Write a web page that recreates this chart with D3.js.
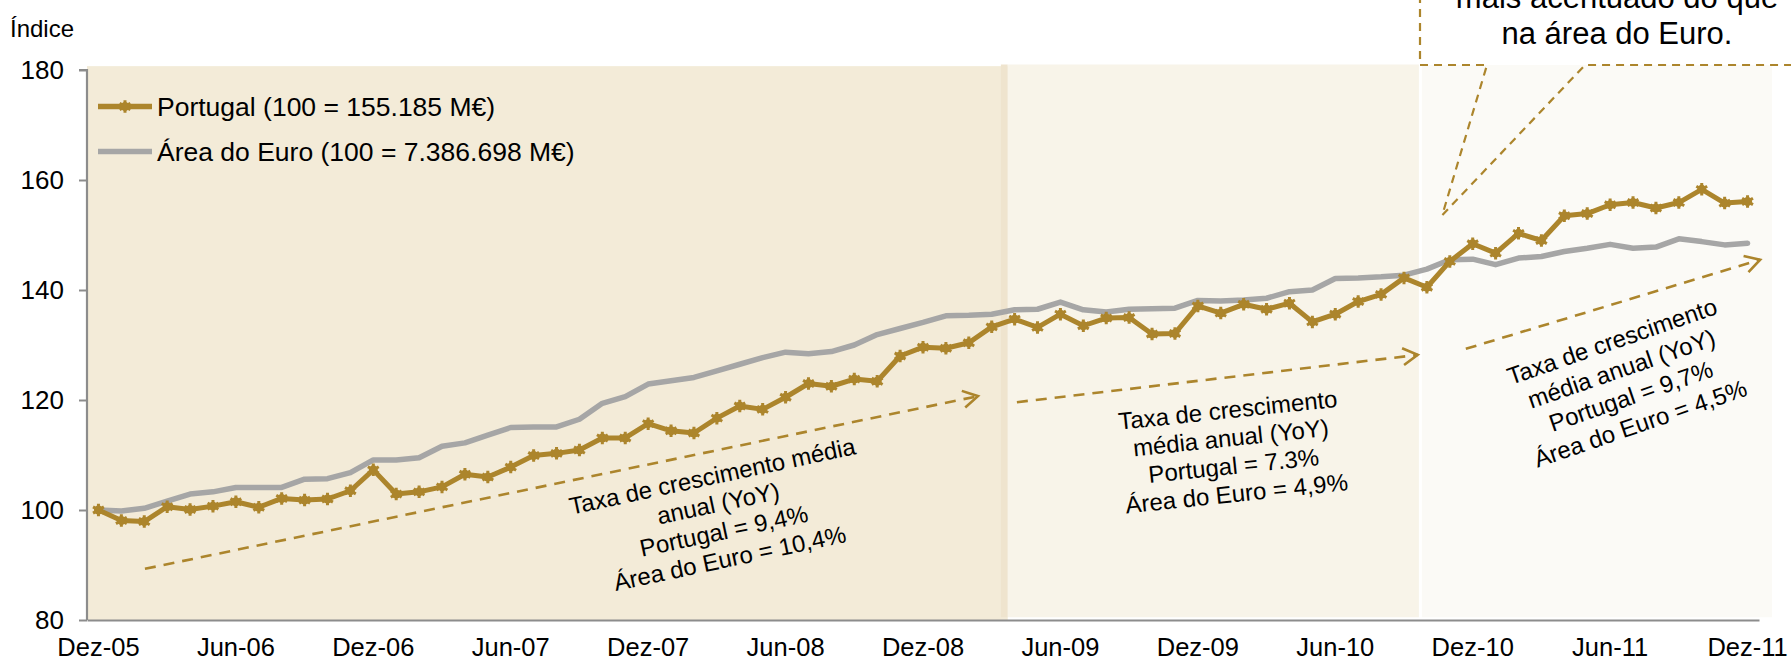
<!DOCTYPE html>
<html><head><meta charset="utf-8">
<script src="https://cdn.jsdelivr.net/npm/d3@7"></script>
<style>
body{margin:0;background:#fff;}
svg{display:block;font-family:"Liberation Sans",Arial,sans-serif;}
</style>
</head><body>
<svg id="c" width="1791" height="664"></svg>
<script>
// ---------- DATA ----------
const categories = [
"Dez-05","Jan-06","Fev-06","Mar-06","Abr-06","Mai-06","Jun-06","Jul-06","Ago-06","Set-06","Out-06","Nov-06",
"Dez-06","Jan-07","Fev-07","Mar-07","Abr-07","Mai-07","Jun-07","Jul-07","Ago-07","Set-07","Out-07","Nov-07",
"Dez-07","Jan-08","Fev-08","Mar-08","Abr-08","Mai-08","Jun-08","Jul-08","Ago-08","Set-08","Out-08","Nov-08",
"Dez-08","Jan-09","Fev-09","Mar-09","Abr-09","Mai-09","Jun-09","Jul-09","Ago-09","Set-09","Out-09","Nov-09",
"Dez-09","Jan-10","Fev-10","Mar-10","Abr-10","Mai-10","Jun-10","Jul-10","Ago-10","Set-10","Out-10","Nov-10",
"Dez-10","Jan-11","Fev-11","Mar-11","Abr-11","Mai-11","Jun-11","Jul-11","Ago-11","Set-11","Out-11","Nov-11",
"Dez-11"];

const portugal = [
100.0,98.1,97.9,100.6,100.1,100.7,101.5,100.5,102.1,101.8,102.0,103.5,
107.3,102.9,103.3,104.2,106.5,106.0,107.8,109.9,110.3,110.9,113.1,113.1,
115.7,114.4,114.0,116.7,118.9,118.3,120.5,123.0,122.5,123.8,123.4,128.0,
129.6,129.4,130.4,133.3,134.7,133.2,135.6,133.5,134.9,135.0,132.0,132.1,
137.1,135.8,137.4,136.5,137.6,134.2,135.6,137.9,139.2,142.2,140.5,145.2,
148.4,146.7,150.3,149.0,153.5,153.9,155.5,155.9,154.9,155.9,158.3,155.8,
156.1];

const euroArea = [
100.0,99.8,100.3,101.6,102.9,103.3,104.1,104.1,104.1,105.6,105.7,106.8,
109.1,109.1,109.5,111.6,112.2,113.6,115.0,115.1,115.1,116.5,119.4,120.6,
122.9,123.5,124.1,125.3,126.5,127.7,128.7,128.4,128.8,130.0,131.9,133.0,
134.1,135.3,135.4,135.6,136.4,136.5,137.8,136.4,136.0,136.5,136.6,136.7,
138.1,138.0,138.2,138.5,139.7,140.0,142.1,142.2,142.4,142.7,143.8,145.5,
145.6,144.6,145.8,146.1,147.0,147.6,148.3,147.6,147.8,149.3,148.8,148.2,
148.5];

const yTicks = [80,100,120,140,160,180];
const xTickLabels = ["Dez-05","Jun-06","Dez-06","Jun-07","Dez-07","Jun-08","Dez-08","Jun-09","Dez-09","Jun-10","Dez-10","Jun-11","Dez-11"];
const seriesNames = ["Portugal (100 = 155.185 M€)","Área do Euro (100 = 7.386.698 M€)"];
const yAxisTitle = "Índice";
const note1 = ["Taxa de crescimento média","anual (YoY)","Portugal = 9,4%","Área do Euro = 10,4%"];
const note2 = ["Taxa de crescimento","média anual (YoY)","Portugal = 7.3%","Área do Euro = 4,9%"];
const note3 = ["Taxa de crescimento","média anual (YoY)","Portugal = 9,7%","Área do Euro = 4,5%"];
const calloutLines = ["mais acentuado do que","na área do Euro."];

// ---------- LAYOUT ----------
const GOLD = "#AC852C", GREY = "#A6A6A6", AXIS = "#8C8C8C";
const svg = d3.select("#c");
const x = d3.scaleBand().domain(categories).range([87,1759]);
const xc = c => x(c) + x.bandwidth()/2;
const xi = d3.scaleLinear().domain([-0.5, categories.length-0.5]).range([87,1759]); // fractional index
const y = d3.scaleLinear().domain([80,180]).range([620,70]);

// shaded periods
const shades = [
  {a:-0.5, b:39.7, top:180.7, bot:80, fill:"#F3EBD8"},
  {a:39.4, b:39.7, top:181.0, bot:80.5, fill:"#EFE4CE"},
  {a:39.7, b:57.65, top:181.0, bot:80.5, fill:"#F8F4E9"},
  {a:57.78, b:73.07, top:180.9, bot:80.5, fill:"#FBFAF6"}
];
svg.append("g").selectAll("rect").data(shades).join("rect")
  .attr("x", d => xi(d.a)).attr("width", d => xi(d.b) - xi(d.a))
  .attr("y", d => y(d.top)).attr("height", d => y(d.bot) - y(d.top))
  .attr("fill", d => d.fill);

// axes
const yAxis = svg.append("g").attr("transform","translate(87,0)")
  .call(d3.axisLeft(y).tickValues(yTicks).tickSize(8).tickPadding(15));
yAxis.select(".domain").attr("stroke",AXIS).attr("stroke-width",2.2)
  .attr("d", `M-8,${y(180)}H0V${y(80)}`);
yAxis.selectAll(".tick line").attr("stroke",AXIS).attr("stroke-width",2);
yAxis.selectAll("text").attr("font-size",26).attr("fill","#000");

const xAxis = svg.append("g").attr("transform","translate(0,620)")
  .call(d3.axisBottom(x).tickValues(xTickLabels).tickSize(0).tickPadding(18));
xAxis.select(".domain").attr("stroke",AXIS).attr("stroke-width",2.2);
xAxis.selectAll("text").attr("font-size",25.5).attr("fill","#000");

svg.append("text").attr("x",10).attr("y",37).attr("font-size",24).text(yAxisTitle);

// lines
const line = d3.line().x((d,i) => xc(categories[i])).y(d => y(d));
svg.append("path").datum(euroArea).attr("d",line).attr("fill","none")
  .attr("stroke",GREY).attr("stroke-width",5.5).attr("stroke-linejoin","round").attr("stroke-linecap","round");
svg.append("path").datum(portugal).attr("d",line).attr("fill","none")
  .attr("stroke",GOLD).attr("stroke-width",5).attr("stroke-linejoin","round");

const star = d3.symbol().type(d3.symbolAsterisk).size(110);
const mk = svg.append("g");
portugal.forEach((v,i) => {
  const g = mk.append("g").attr("transform",`translate(${xc(categories[i])},${y(v)})`);
  g.append("circle").attr("r",4.5).attr("fill",GOLD);
  g.append("path").attr("d",star()).attr("fill","none").attr("stroke",GOLD).attr("stroke-width",3);
});

// legend
const lg = svg.append("g");
[[GOLD,106.5,true],[GREY,151.5,false]].forEach(([col,ly,m],k) => {
  lg.append("line").attr("x1",98).attr("x2",152).attr("y1",ly).attr("y2",ly)
    .attr("stroke",col).attr("stroke-width",5.5);
  if (m) {
    lg.append("circle").attr("cx",125).attr("cy",ly).attr("r",4.5).attr("fill",col);
    lg.append("path").attr("d",star()).attr("transform",`translate(125,${ly})`)
      .attr("fill","none").attr("stroke",col).attr("stroke-width",3);
  }
  lg.append("text").attr("x",157).attr("y",ly).attr("dy","0.35em").attr("font-size",26.5)
    .text(seriesNames[k]);
});

// dashed arrows
const arrows = [
  {x1:2.03, v1:89.3, x2:38.4, v2:120.7},
  {x1:40.1, v1:119.6, x2:57.6, v2:128.2},
  {x1:59.7, v1:129.3, x2:72.55, v2:145.5}
];
const ag = svg.append("g").attr("stroke",GOLD).attr("fill","none").attr("stroke-width",2.6);
arrows.forEach(a => {
  const X1 = xi(a.x1), Y1 = y(a.v1), X2 = xi(a.x2), Y2 = y(a.v2);
  ag.append("line").attr("x1",X1).attr("y1",Y1).attr("x2",X2).attr("y2",Y2)
    .attr("stroke-dasharray","11,8");
  const ang = Math.atan2(Y2-Y1, X2-X1), L = 17, s = 0.52;
  ag.append("path").attr("d",
    `M${X2-L*Math.cos(ang-s)},${Y2-L*Math.sin(ang-s)}L${X2},${Y2}L${X2-L*Math.cos(ang+s)},${Y2-L*Math.sin(ang+s)}`);
});

// rotated notes
function note(lines, cxIdx, cv, angle, fs, lh) {
  const g = svg.append("g").attr("transform",`translate(${xi(cxIdx)},${y(cv)}) rotate(${angle})`);
  const n = lines.length;
  lines.forEach((t,k) => {
    g.append("text").attr("x",0).attr("y",(k-(n-1)/2)*lh).attr("dy","0.35em")
      .attr("text-anchor","middle").attr("font-size",fs).text(t);
  });
}
note(note1, 27.18, 98.7, -12, 24, 28);
note(note2, 49.5, 110.6, -6, 24, 28);
note(note3, 66.7, 123.2, -19, 24, 29);

// callout box
const cg = svg.append("g").attr("stroke",GOLD).attr("fill","none").attr("stroke-width",2.2)
  .attr("stroke-dasharray","8,6");
const bx = 1420, by = 65, p1 = 1487, p2 = 1585, tip = [xi(58.67), y(153.6)];
cg.append("path").attr("d",`M${bx},-5V${by}H${p1}L${tip[0]},${tip[1]}L${p2},${by}H1800`);
const ct = svg.append("g");
calloutLines.forEach((t,k) => {
  ct.append("text").attr("x",1617).attr("y",8 + k*36).attr("text-anchor","middle")
    .attr("font-size",31).text(t);
});
</script>
</body></html>
